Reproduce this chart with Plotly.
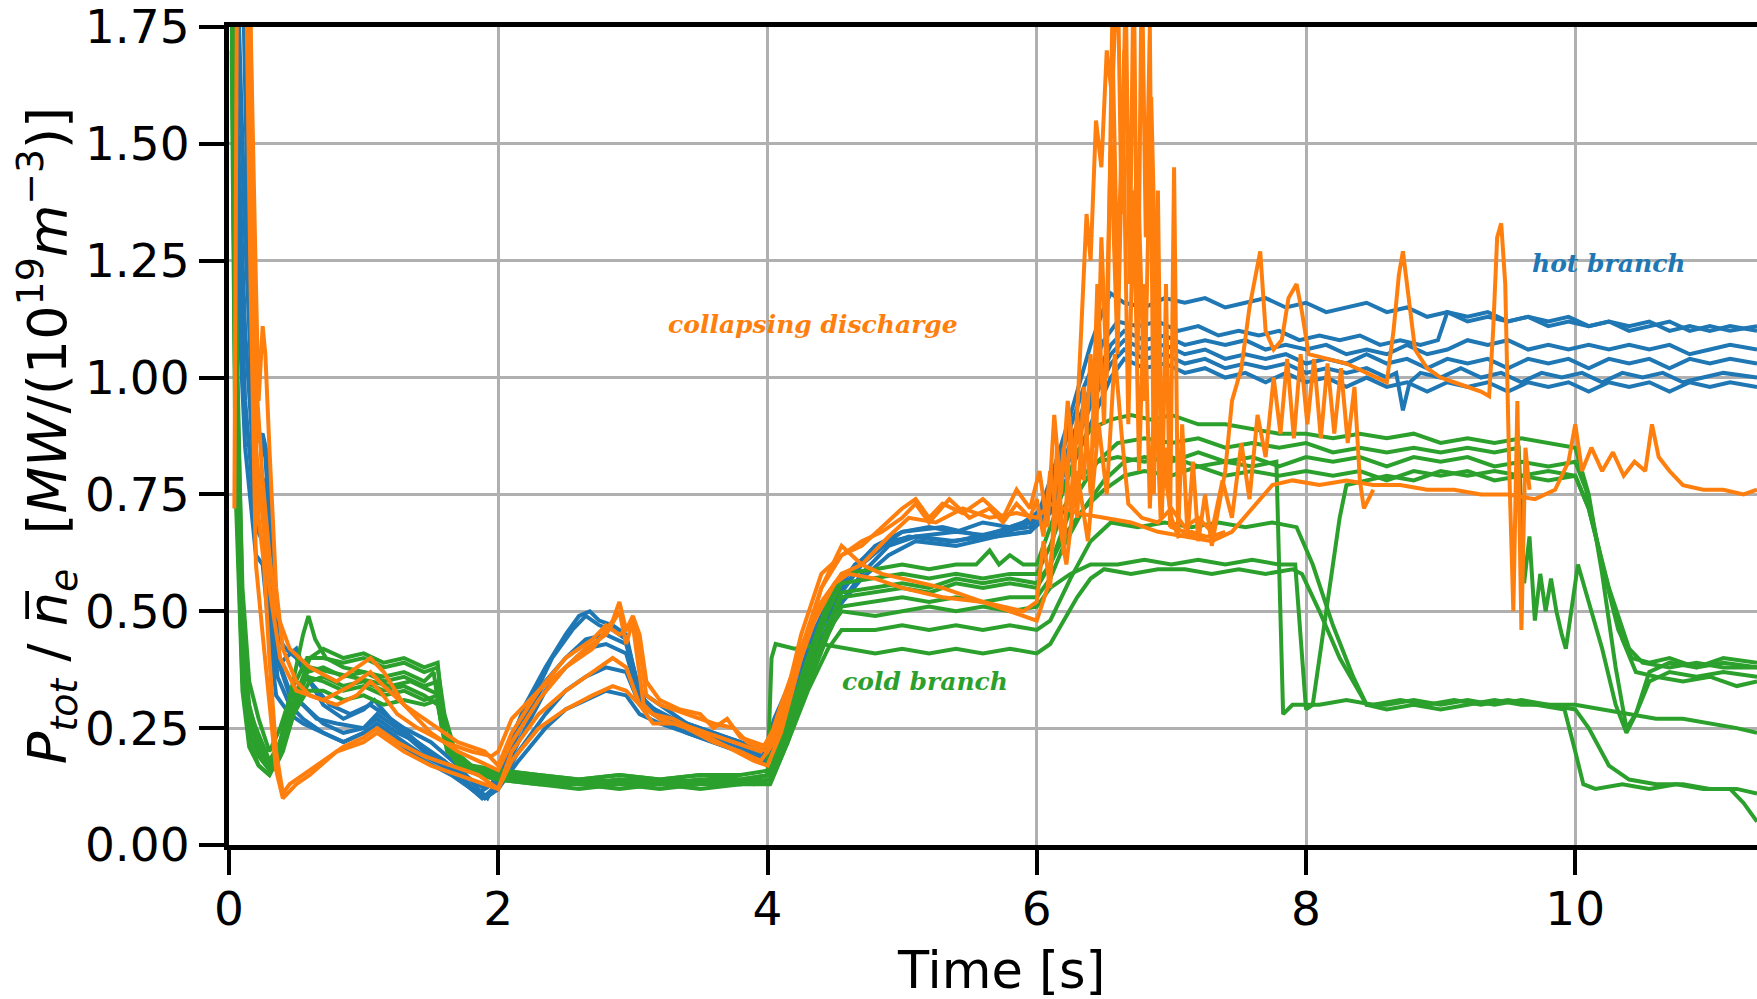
import plotly.graph_objects as go

# ---------------- data (time [s], P_tot / n_e) ----------------
hot1 = [(0.03,2.4),(0.1,1.9),(0.15,1.2),(0.2,0.86),(0.25,0.88),(0.28,0.84),(0.32,0.6),(0.38,0.38),(0.45,0.32),(0.55,0.3),(0.65,0.27),(0.8,0.26),(1.0,0.25),(1.1,0.27),(1.25,0.24),(1.4,0.22),(1.6,0.18),(1.75,0.14),(1.85,0.11),(1.95,0.13),(2.05,0.19),(2.2,0.3),(2.35,0.38),(2.5,0.45),(2.6,0.49),(2.68,0.5),(2.75,0.48),(2.85,0.47),(2.95,0.45),(3.02,0.36),(3.1,0.3),(3.3,0.27),(3.5,0.25),(3.7,0.23),(3.9,0.21),(4.0,0.2),(4.1,0.28),(4.3,0.42),(4.5,0.53),(4.7,0.6),(4.9,0.65),(5.0,0.67),(5.2,0.68),(5.4,0.67),(5.6,0.69),(5.8,0.68),(6.0,0.7),(6.1,0.78),(6.25,0.92),(6.4,1.07),(6.5,1.15),(6.55,1.18),(6.65,1.16),(6.8,1.15),(6.95,1.17),(7.1,1.16),(7.25,1.17),(7.4,1.15),(7.55,1.16),(7.7,1.17),(7.85,1.15),(8.0,1.16),(8.15,1.14),(8.3,1.15),(8.45,1.16),(8.6,1.14),(8.75,1.15),(8.9,1.13),(9.05,1.14),(9.2,1.12),(9.35,1.13),(9.5,1.12),(9.65,1.13),(9.8,1.11),(9.95,1.12),(10.1,1.11),(10.25,1.12),(10.4,1.1),(10.55,1.11),(10.7,1.12),(10.85,1.1),(11.0,1.11),(11.15,1.1),(11.35,1.11)]
hot2 = [(0.03,2.2),(0.1,1.5),(0.18,0.9),(0.24,0.86),(0.27,0.83),(0.3,0.7),(0.35,0.45),(0.42,0.42),(0.5,0.4),(0.6,0.35),(0.75,0.3),(0.9,0.28),(1.05,0.3),(1.15,0.28),(1.3,0.25),(1.5,0.22),(1.7,0.17),(1.85,0.12),(1.92,0.1),(2.05,0.17),(2.2,0.28),(2.4,0.4),(2.55,0.46),(2.65,0.49),(2.75,0.47),(2.85,0.46),(2.95,0.44),(3.05,0.33),(3.2,0.3),(3.4,0.26),(3.6,0.24),(3.8,0.22),(3.95,0.2),(4.05,0.22),(4.2,0.33),(4.4,0.48),(4.6,0.58),(4.8,0.64),(5.0,0.67),(5.3,0.68),(5.6,0.66),(5.9,0.69),(6.05,0.72),(6.2,0.85),(6.35,0.98),(6.5,1.08),(6.6,1.12),(6.75,1.11),(6.9,1.12),(7.05,1.1),(7.2,1.11),(7.35,1.09),(7.5,1.1),(7.65,1.09),(7.8,1.1),(7.95,1.08),(8.1,1.09),(8.25,1.08),(8.4,1.09),(8.55,1.07),(8.7,1.08),(8.85,1.07),(8.98,1.08),(9.05,1.14),(9.2,1.13),(9.35,1.14),(9.5,1.12),(9.65,1.13),(9.8,1.12),(9.95,1.13),(10.1,1.11),(10.25,1.12),(10.4,1.11),(10.55,1.12),(10.7,1.1),(10.85,1.11),(11.0,1.1),(11.15,1.11),(11.35,1.1)]
hot3 = [(0.03,2.0),(0.12,1.3),(0.2,0.8),(0.26,0.78),(0.3,0.62),(0.36,0.4),(0.45,0.33),(0.55,0.3),(0.7,0.26),(0.85,0.24),(1.0,0.25),(1.1,0.28),(1.25,0.25),(1.45,0.2),(1.65,0.17),(1.8,0.14),(1.9,0.12),(2.0,0.14),(2.15,0.24),(2.35,0.35),(2.5,0.4),(2.65,0.44),(2.8,0.45),(2.95,0.43),(3.05,0.32),(3.2,0.28),(3.4,0.25),(3.6,0.23),(3.8,0.21),(3.98,0.19),(4.1,0.25),(4.3,0.4),(4.5,0.52),(4.7,0.6),(4.9,0.65),(5.1,0.66),(5.4,0.65),(5.7,0.67),(5.95,0.68),(6.1,0.74),(6.25,0.86),(6.4,0.98),(6.55,1.07),(6.65,1.1),(6.8,1.08),(6.95,1.09),(7.1,1.07),(7.25,1.08),(7.4,1.07),(7.55,1.08),(7.7,1.06),(7.85,1.07),(8.0,1.06),(8.15,1.07),(8.3,1.05),(8.45,1.06),(8.6,1.05),(8.75,1.07),(8.9,1.05),(9.05,1.06),(9.2,1.08),(9.35,1.07),(9.5,1.08),(9.65,1.06),(9.8,1.07),(9.95,1.06),(10.1,1.07),(10.25,1.06),(10.4,1.07),(10.55,1.06),(10.7,1.07),(10.85,1.05),(11.0,1.06),(11.15,1.07),(11.35,1.06)]
hot4 = [(0.03,1.8),(0.12,1.1),(0.2,0.74),(0.25,0.72),(0.3,0.55),(0.36,0.36),(0.45,0.3),(0.55,0.27),(0.7,0.24),(0.85,0.22),(1.0,0.24),(1.1,0.26),(1.25,0.23),(1.45,0.19),(1.65,0.16),(1.8,0.12),(1.9,0.1),(2.0,0.12),(2.15,0.2),(2.35,0.28),(2.5,0.33),(2.65,0.36),(2.8,0.38),(2.95,0.37),(3.05,0.3),(3.2,0.27),(3.4,0.24),(3.6,0.22),(3.8,0.2),(3.98,0.18),(4.1,0.23),(4.3,0.37),(4.5,0.5),(4.7,0.58),(4.9,0.64),(5.1,0.66),(5.4,0.67),(5.7,0.66),(5.95,0.69),(6.1,0.74),(6.25,0.85),(6.4,0.96),(6.55,1.05),(6.65,1.08),(6.8,1.06),(6.95,1.07),(7.1,1.05),(7.25,1.06),(7.4,1.04),(7.55,1.05),(7.7,1.04),(7.85,1.05),(8.0,1.03),(8.15,1.04),(8.3,1.03),(8.45,1.05),(8.6,1.03),(8.75,1.04),(8.9,1.02),(9.05,1.04),(9.2,1.03),(9.35,1.04),(9.5,1.02),(9.65,1.04),(9.8,1.03),(9.95,1.04),(10.1,1.02),(10.25,1.04),(10.4,1.03),(10.55,1.04),(10.7,1.02),(10.85,1.04),(11.0,1.03),(11.15,1.04),(11.35,1.03)]
hot5 = [(0.03,1.6),(0.12,0.95),(0.2,0.68),(0.25,0.65),(0.3,0.5),(0.35,0.38),(0.42,0.4),(0.5,0.42),(0.58,0.36),(0.7,0.3),(0.85,0.27),(1.0,0.29),(1.08,0.31),(1.2,0.27),(1.4,0.22),(1.6,0.17),(1.75,0.13),(1.88,0.1),(2.0,0.13),(2.15,0.22),(2.35,0.33),(2.5,0.38),(2.65,0.42),(2.8,0.43),(2.95,0.41),(3.05,0.31),(3.2,0.28),(3.4,0.26),(3.6,0.23),(3.8,0.21),(3.97,0.19),(4.08,0.24),(4.3,0.38),(4.5,0.5),(4.7,0.57),(4.9,0.62),(5.1,0.65),(5.4,0.64),(5.7,0.66),(5.95,0.67),(6.1,0.72),(6.25,0.83),(6.4,0.94),(6.55,1.03),(6.65,1.06),(6.8,1.04),(6.95,1.05),(7.1,1.03),(7.25,1.04),(7.4,1.02),(7.55,1.03),(7.7,1.02),(7.85,1.03),(8.0,1.01),(8.15,1.02),(8.3,1.01),(8.45,1.02),(8.6,1.0),(8.67,1.01),(8.72,0.93),(8.77,0.99),(8.85,1.01),(9.0,1.0),(9.15,1.02),(9.3,1.0),(9.45,1.01),(9.6,0.99),(9.75,1.01),(9.9,1.0),(10.05,1.01),(10.2,0.99),(10.35,1.01),(10.5,1.0),(10.65,1.01),(10.8,0.99),(10.95,1.0),(11.1,1.01),(11.35,1.0)]
hot6 = [(0.03,1.4),(0.12,0.85),(0.2,0.62),(0.25,0.6),(0.3,0.45),(0.35,0.32),(0.45,0.28),(0.55,0.26),(0.7,0.24),(0.85,0.22),(1.0,0.24),(1.1,0.25),(1.25,0.22),(1.45,0.18),(1.65,0.15),(1.8,0.12),(1.9,0.1),(2.0,0.12),(2.15,0.18),(2.35,0.25),(2.5,0.29),(2.65,0.31),(2.8,0.33),(2.95,0.32),(3.05,0.28),(3.2,0.26),(3.4,0.24),(3.6,0.22),(3.8,0.2),(3.97,0.19),(4.05,0.27),(4.25,0.4),(4.45,0.52),(4.65,0.6),(4.85,0.64),(5.05,0.66),(5.35,0.65),(5.65,0.66),(5.95,0.67),(6.1,0.71),(6.25,0.8),(6.4,0.9),(6.55,1.0),(6.65,1.04),(6.8,1.02),(6.95,1.03),(7.1,1.01),(7.25,1.02),(7.4,1.0),(7.55,1.01),(7.7,0.99),(7.85,1.01),(8.0,0.99),(8.15,1.0),(8.3,0.98),(8.45,1.0),(8.6,0.98),(8.75,0.99),(8.9,0.97),(9.05,0.99),(9.2,0.98),(9.35,0.99),(9.5,0.97),(9.65,0.99),(9.8,0.98),(9.95,0.99),(10.1,0.97),(10.25,0.99),(10.4,0.98),(10.55,0.99),(10.7,0.97),(10.85,0.99),(11.0,0.98),(11.15,0.99),(11.35,0.98)]

cold1 = [(0.02,2.3),(0.05,1.2),(0.1,0.5),(0.14,0.3),(0.2,0.25),(0.27,0.2),(0.33,0.16),(0.4,0.2),(0.5,0.3),(0.6,0.35),(0.7,0.36),(0.85,0.34),(1.0,0.35),(1.15,0.33),(1.3,0.34),(1.45,0.32),(1.55,0.3),(1.62,0.2),(1.75,0.17),(1.9,0.15),(2.1,0.14),(2.4,0.13),(2.7,0.14),(3.0,0.13),(3.3,0.14),(3.6,0.13),(3.9,0.14),(4.0,0.15),(4.03,0.4),(4.06,0.43),(4.2,0.42),(4.4,0.43),(4.6,0.42),(4.8,0.41),(5.0,0.42),(5.2,0.41),(5.4,0.42),(5.6,0.41),(5.8,0.42),(6.0,0.41),(6.1,0.43),(6.2,0.48),(6.3,0.53),(6.4,0.57),(6.5,0.59),(6.7,0.58),(6.9,0.59),(7.1,0.59),(7.3,0.58),(7.5,0.59),(7.7,0.58),(7.9,0.59),(7.97,0.58),(8.1,0.5),(8.25,0.4),(8.45,0.3),(8.6,0.29),(8.8,0.3),(9.0,0.29),(9.2,0.3),(9.4,0.31),(9.6,0.3),(9.8,0.3),(10.0,0.29),(10.1,0.25),(10.25,0.17),(10.4,0.14),(10.6,0.13),(10.8,0.13),(11.0,0.12),(11.2,0.12),(11.35,0.11)]
cold2 = [(0.02,2.1),(0.05,1.0),(0.1,0.45),(0.15,0.3),(0.22,0.22),(0.3,0.18),(0.38,0.22),(0.48,0.35),(0.55,0.45),(0.59,0.49),(0.64,0.44),(0.72,0.4),(0.85,0.38),(1.0,0.37),(1.15,0.36),(1.3,0.37),(1.45,0.35),(1.52,0.37),(1.58,0.25),(1.7,0.19),(1.85,0.16),(2.0,0.15),(2.3,0.14),(2.6,0.13),(2.9,0.14),(3.2,0.13),(3.5,0.14),(3.8,0.14),(4.02,0.15),(4.15,0.25),(4.3,0.37),(4.45,0.46),(4.55,0.5),(4.8,0.49),(5.0,0.5),(5.2,0.51),(5.4,0.5),(5.6,0.51),(5.8,0.5),(6.0,0.51),(6.1,0.55),(6.25,0.58),(6.4,0.6),(6.6,0.6),(6.8,0.61),(7.0,0.6),(7.2,0.61),(7.4,0.6),(7.6,0.61),(7.8,0.6),(7.92,0.6),(7.96,0.45),(8.0,0.29),(8.05,0.3),(8.15,0.5),(8.25,0.7),(8.3,0.77),(8.45,0.78),(8.6,0.79),(8.8,0.78),(9.0,0.8),(9.2,0.79),(9.4,0.8),(9.6,0.79),(9.8,0.8),(10.0,0.79),(10.1,0.72),(10.25,0.55),(10.4,0.42),(10.5,0.39),(10.7,0.38),(10.9,0.39),(11.1,0.38),(11.35,0.38)]
cold3 = [(0.02,2.0),(0.05,0.9),(0.1,0.4),(0.16,0.25),(0.25,0.2),(0.32,0.17),(0.4,0.24),(0.5,0.33),(0.6,0.38),(0.75,0.37),(0.9,0.36),(1.05,0.35),(1.2,0.34),(1.35,0.35),(1.5,0.33),(1.57,0.32),(1.62,0.21),(1.75,0.16),(1.9,0.15),(2.1,0.15),(2.4,0.14),(2.7,0.13),(3.0,0.14),(3.3,0.13),(3.6,0.14),(3.9,0.13),(4.03,0.14),(4.15,0.22),(4.3,0.33),(4.45,0.42),(4.55,0.46),(4.8,0.46),(5.0,0.47),(5.2,0.46),(5.4,0.47),(5.6,0.46),(5.8,0.47),(6.0,0.46),(6.1,0.48),(6.25,0.57),(6.4,0.65),(6.55,0.69),(6.75,0.68),(6.95,0.69),(7.15,0.68),(7.35,0.69),(7.55,0.68),(7.75,0.69),(7.93,0.68),(8.05,0.6),(8.2,0.47),(8.35,0.36),(8.45,0.3),(8.6,0.3),(8.8,0.31),(9.0,0.3),(9.2,0.31),(9.4,0.3),(9.6,0.31),(9.8,0.3),(10.0,0.3),(10.2,0.29),(10.4,0.28),(10.6,0.27),(10.8,0.27),(11.0,0.26),(11.2,0.25),(11.35,0.24)]
cold4 = [(0.02,1.9),(0.05,0.8),(0.1,0.35),(0.15,0.22),(0.22,0.17),(0.3,0.15),(0.38,0.2),(0.5,0.32),(0.6,0.4),(0.7,0.42),(0.85,0.4),(1.0,0.41),(1.15,0.39),(1.3,0.4),(1.45,0.38),(1.55,0.39),(1.6,0.24),(1.7,0.18),(1.85,0.16),(2.0,0.16),(2.3,0.15),(2.6,0.14),(2.9,0.15),(3.2,0.14),(3.5,0.15),(3.8,0.14),(4.02,0.15),(4.15,0.25),(4.3,0.38),(4.45,0.5),(4.55,0.56),(4.8,0.57),(5.0,0.58),(5.2,0.57),(5.4,0.58),(5.6,0.57),(5.8,0.58),(6.0,0.58),(6.1,0.64),(6.2,0.72),(6.3,0.78),(6.45,0.82),(6.6,0.83),(6.8,0.82),(7.0,0.83),(7.2,0.81),(7.4,0.82),(7.6,0.81),(7.78,0.82),(7.8,0.6),(7.83,0.28),(7.9,0.3),(8.1,0.3),(8.3,0.31),(8.5,0.3),(8.7,0.31),(8.9,0.3),(9.1,0.31),(9.3,0.3),(9.5,0.31),(9.7,0.3),(9.92,0.29),(10.0,0.2),(10.06,0.13),(10.15,0.12),(10.35,0.13),(10.55,0.12),(10.75,0.13),(10.95,0.12),(11.15,0.12),(11.25,0.09),(11.35,0.05)]
cold5 = [(0.02,2.2),(0.05,1.1),(0.1,0.55),(0.15,0.35),(0.22,0.27),(0.3,0.2),(0.38,0.25),(0.48,0.34),(0.58,0.4),(0.7,0.4),(0.85,0.39),(1.0,0.4),(1.15,0.38),(1.3,0.39),(1.45,0.37),(1.55,0.38),(1.6,0.28),(1.68,0.2),(1.8,0.17),(2.0,0.16),(2.3,0.15),(2.6,0.14),(2.9,0.15),(3.2,0.14),(3.5,0.15),(3.8,0.15),(4.02,0.16),(4.15,0.27),(4.3,0.4),(4.45,0.52),(4.55,0.58),(4.8,0.59),(5.0,0.6),(5.2,0.59),(5.4,0.6),(5.55,0.6),(5.65,0.63),(5.72,0.6),(5.8,0.62),(5.9,0.6),(6.0,0.6),(6.1,0.68),(6.2,0.76),(6.3,0.84),(6.4,0.89),(6.55,0.91),(6.7,0.92),(6.85,0.91),(7.0,0.92),(7.2,0.9),(7.4,0.9),(7.6,0.89),(7.8,0.88),(8.0,0.88),(8.2,0.87),(8.4,0.88),(8.6,0.87),(8.8,0.88),(9.0,0.86),(9.2,0.87),(9.4,0.86),(9.6,0.87),(9.8,0.86),(10.0,0.85),(10.1,0.75),(10.2,0.58),(10.3,0.38),(10.38,0.25),(10.45,0.28),(10.55,0.37),(10.7,0.39),(10.9,0.38),(11.1,0.4),(11.35,0.39)]
cold6 = [(0.02,2.0),(0.05,0.95),(0.1,0.45),(0.15,0.28),(0.22,0.2),(0.3,0.17),(0.38,0.22),(0.48,0.3),(0.58,0.36),(0.7,0.35),(0.85,0.33),(1.0,0.34),(1.15,0.32),(1.3,0.33),(1.45,0.31),(1.55,0.32),(1.62,0.22),(1.72,0.17),(1.85,0.15),(2.0,0.14),(2.3,0.13),(2.6,0.12),(2.9,0.13),(3.2,0.12),(3.5,0.13),(3.8,0.13),(4.02,0.14),(4.15,0.24),(4.3,0.36),(4.45,0.47),(4.55,0.53),(4.8,0.54),(5.0,0.55),(5.2,0.54),(5.4,0.56),(5.6,0.55),(5.8,0.56),(6.0,0.55),(6.1,0.6),(6.2,0.68),(6.3,0.75),(6.45,0.82),(6.6,0.86),(6.8,0.87),(7.0,0.86),(7.2,0.87),(7.4,0.85),(7.6,0.86),(7.8,0.85),(8.0,0.86),(8.2,0.84),(8.4,0.85),(8.6,0.84),(8.8,0.85),(9.0,0.84),(9.2,0.85),(9.4,0.84),(9.58,0.85),(9.62,0.56),(9.66,0.66),(9.7,0.48),(9.74,0.58),(9.78,0.5),(9.82,0.57),(9.86,0.5),(9.9,0.45),(9.93,0.42),(9.97,0.5),(10.02,0.6),(10.1,0.52),(10.2,0.42),(10.3,0.3),(10.38,0.24),(10.45,0.28),(10.55,0.35),(10.7,0.37),(10.9,0.36),(11.1,0.37),(11.35,0.36)]
cold7 = [(0.02,1.8),(0.05,0.85),(0.1,0.38),(0.15,0.24),(0.22,0.19),(0.3,0.16),(0.38,0.21),(0.48,0.31),(0.58,0.37),(0.7,0.38),(0.85,0.36),(1.0,0.37),(1.15,0.35),(1.3,0.36),(1.45,0.34),(1.55,0.35),(1.6,0.23),(1.7,0.18),(1.85,0.16),(2.0,0.15),(2.3,0.14),(2.6,0.13),(2.9,0.14),(3.2,0.13),(3.5,0.14),(3.8,0.13),(4.02,0.14),(4.15,0.23),(4.3,0.34),(4.45,0.45),(4.55,0.51),(4.8,0.52),(5.0,0.53),(5.2,0.52),(5.4,0.53),(5.6,0.52),(5.8,0.53),(6.0,0.53),(6.1,0.57),(6.2,0.64),(6.35,0.72),(6.5,0.78),(6.65,0.82),(6.8,0.83),(7.0,0.82),(7.2,0.84),(7.4,0.82),(7.6,0.83),(7.8,0.81),(8.0,0.83),(8.2,0.82),(8.4,0.83),(8.6,0.81),(8.8,0.83),(9.0,0.82),(9.2,0.83),(9.4,0.81),(9.6,0.82),(9.8,0.81),(10.0,0.82),(10.08,0.76),(10.2,0.6),(10.32,0.46),(10.42,0.4),(10.55,0.39),(10.7,0.4),(10.9,0.38),(11.1,0.39),(11.35,0.38)]
cold8 = [(0.02,1.7),(0.05,0.75),(0.1,0.33),(0.15,0.21),(0.22,0.17),(0.3,0.15),(0.38,0.19),(0.48,0.28),(0.58,0.33),(0.7,0.33),(0.85,0.31),(1.0,0.32),(1.15,0.3),(1.3,0.31),(1.45,0.3),(1.55,0.31),(1.6,0.22),(1.7,0.17),(1.85,0.15),(2.0,0.14),(2.3,0.13),(2.6,0.13),(2.9,0.12),(3.2,0.13),(3.5,0.12),(3.8,0.13),(4.02,0.13),(4.15,0.22),(4.3,0.35),(4.45,0.47),(4.55,0.54),(4.8,0.55),(5.0,0.56),(5.2,0.55),(5.4,0.57),(5.6,0.56),(5.8,0.57),(6.0,0.56),(6.1,0.6),(6.2,0.66),(6.35,0.72),(6.5,0.76),(6.65,0.79),(6.8,0.8),(7.0,0.79),(7.2,0.81),(7.4,0.79),(7.6,0.8),(7.8,0.79),(8.0,0.8),(8.2,0.79),(8.4,0.8),(8.6,0.78),(8.8,0.8),(9.0,0.79),(9.2,0.8),(9.4,0.78),(9.6,0.79),(9.8,0.78),(10.0,0.79),(10.1,0.72),(10.22,0.58),(10.35,0.44),(10.45,0.37),(10.6,0.36),(10.8,0.35),(11.0,0.36),(11.2,0.34),(11.35,0.35)]

coll1 = [(0.04,0.72),(0.06,1.9),(0.1,2.2),(0.15,1.9),(0.2,1.2),(0.22,0.95),(0.25,1.11),(0.27,1.05),(0.3,0.85),(0.35,0.55),(0.4,0.42),(0.5,0.35),(0.6,0.32),(0.8,0.3),(0.95,0.32),(1.05,0.35),(1.12,0.33),(1.25,0.28),(1.4,0.25),(1.6,0.22),(1.8,0.2),(1.95,0.19),(2.0,0.2),(2.1,0.27),(2.3,0.33),(2.5,0.38),(2.7,0.42),(2.85,0.48),(2.9,0.52),(2.95,0.46),(3.0,0.49),(3.05,0.45),(3.1,0.35),(3.2,0.31),(3.35,0.29),(3.5,0.28),(3.6,0.25),(3.7,0.27),(3.8,0.23),(3.9,0.22),(4.0,0.21),(4.1,0.3),(4.25,0.42),(4.4,0.55),(4.55,0.62),(4.7,0.64),(4.85,0.68),(5.0,0.72),(5.1,0.74),(5.2,0.7),(5.3,0.73),(5.45,0.71),(5.6,0.74),(5.75,0.7),(5.85,0.76),(5.95,0.72),(6.02,0.8),(6.08,0.68),(6.13,0.92),(6.18,0.75),(6.23,0.95),(6.28,0.8),(6.33,1.1),(6.37,1.35),(6.4,1.25),(6.44,1.55),(6.48,1.45),(6.52,1.7),(6.56,1.6),(6.6,1.9),(6.63,1.35),(6.66,1.85),(6.69,1.2),(6.72,1.9),(6.75,1.05),(6.78,1.9),(6.81,1.3),(6.84,1.75),(6.87,0.75),(6.9,1.4),(6.93,0.7),(6.96,1.2),(6.99,0.68),(7.02,1.45),(7.05,0.66),(7.08,0.9),(7.12,0.66),(7.16,0.82),(7.2,0.65),(7.25,0.75),(7.3,0.64),(7.35,0.72),(7.4,0.8),(7.45,0.95),(7.52,1.02),(7.58,1.15),(7.63,1.22),(7.66,1.27),(7.7,1.1),(7.76,1.06),(7.82,1.08),(7.87,1.17),(7.93,1.2),(7.97,1.14),(8.02,1.05),(8.15,1.04),(8.3,1.03),(8.45,1.01),(8.6,0.99),(8.65,1.1),(8.69,1.22),(8.72,1.27),(8.76,1.17),(8.81,1.06),(8.9,1.02),(9.0,1.0),(9.1,0.99),(9.2,0.98),(9.3,0.97),(9.36,0.96),(9.39,1.1),(9.42,1.3),(9.45,1.33),(9.48,1.2),(9.51,0.8),(9.54,0.5),(9.57,0.95),(9.6,0.46),(9.63,0.85),(9.66,0.76)]
coll2 = [(0.03,2.3),(0.1,2.5),(0.15,1.8),(0.18,1.0),(0.22,0.7),(0.26,0.6),(0.3,0.4),(0.35,0.2),(0.4,0.11),(0.45,0.13),(0.55,0.15),(0.7,0.18),(0.85,0.21),(1.0,0.23),(1.1,0.25),(1.25,0.22),(1.45,0.19),(1.65,0.17),(1.85,0.15),(2.0,0.12),(2.1,0.2),(2.3,0.28),(2.5,0.33),(2.7,0.37),(2.85,0.4),(2.95,0.38),(3.05,0.3),(3.15,0.26),(3.35,0.26),(3.55,0.24),(3.75,0.22),(3.95,0.2),(4.05,0.25),(4.2,0.38),(4.4,0.52),(4.55,0.58),(4.7,0.6),(4.9,0.66),(5.05,0.7),(5.25,0.69),(5.45,0.72),(5.65,0.7),(5.85,0.71),(6.0,0.7),(6.1,0.73),(6.3,0.71),(6.5,0.7),(6.7,0.69),(6.9,0.67),(7.1,0.66),(7.3,0.65),(7.45,0.67),(7.6,0.72),(7.75,0.77),(7.9,0.78),(8.1,0.77),(8.3,0.78),(8.5,0.77),(8.7,0.77),(8.9,0.76),(9.1,0.76),(9.3,0.75),(9.5,0.75),(9.7,0.74),(9.85,0.76),(9.95,0.82),(10.0,0.9),(10.05,0.8),(10.12,0.85),(10.2,0.8),(10.28,0.84),(10.36,0.79),(10.44,0.82),(10.52,0.8),(10.57,0.9),(10.62,0.83),(10.7,0.8),(10.8,0.77),(10.95,0.76),(11.1,0.76),(11.25,0.75),(11.35,0.76)]
coll3 = [(0.03,2.0),(0.12,2.2),(0.17,1.5),(0.2,0.85),(0.25,0.7),(0.3,0.55),(0.38,0.4),(0.5,0.33),(0.7,0.31),(0.9,0.34),(1.05,0.37),(1.15,0.34),(1.3,0.3),(1.5,0.26),(1.7,0.22),(1.9,0.2),(2.0,0.17),(2.1,0.24),(2.3,0.33),(2.5,0.4),(2.7,0.44),(2.8,0.47),(2.9,0.45),(3.0,0.47),(3.08,0.3),(3.15,0.28),(3.3,0.27),(3.5,0.24),(3.7,0.21),(3.9,0.18),(4.0,0.17),(4.1,0.24),(4.25,0.4),(4.4,0.55),(4.55,0.64),(4.7,0.6),(4.85,0.58),(5.0,0.57),(5.3,0.55),(5.6,0.52),(5.9,0.49),(6.0,0.48),(6.08,0.55),(6.15,0.72),(6.22,0.6),(6.3,0.8),(6.38,0.65),(6.46,0.9),(6.52,0.75),(6.58,1.05),(6.63,0.88),(6.68,0.73),(6.78,0.7),(6.9,0.69),(7.0,0.72),(7.1,0.68),(7.2,0.7),(7.3,0.67),(7.38,0.78),(7.45,0.7),(7.52,0.86),(7.58,0.74),(7.64,0.92),(7.7,0.83),(7.76,1.0),(7.81,0.88),(7.86,1.04),(7.91,0.87),(7.96,1.05),(8.01,0.9),(8.06,1.04),(8.11,0.87),(8.16,1.03),(8.21,0.88),(8.26,1.02),(8.31,0.86),(8.36,0.98),(8.4,0.78),(8.43,0.72),(8.5,0.76)]
coll4 = [(0.03,2.5),(0.12,2.0),(0.16,1.2),(0.2,0.6),(0.25,0.45),(0.3,0.3),(0.35,0.16),(0.4,0.1),(0.5,0.13),(0.6,0.15),(0.8,0.2),(1.0,0.22),(1.1,0.24),(1.3,0.2),(1.5,0.17),(1.7,0.15),(1.9,0.13),(2.0,0.12),(2.1,0.18),(2.3,0.25),(2.5,0.29),(2.7,0.32),(2.85,0.34),(2.95,0.33),(3.05,0.3),(3.2,0.27),(3.4,0.25),(3.6,0.22),(3.8,0.2),(3.95,0.18),(4.05,0.22),(4.2,0.36),(4.35,0.48),(4.5,0.56),(4.6,0.58),(4.8,0.57),(5.0,0.55),(5.3,0.53),(5.6,0.52),(5.9,0.5),(6.0,0.52),(6.05,0.65),(6.1,0.55),(6.15,0.85),(6.2,0.62),(6.25,0.9),(6.3,0.7),(6.35,0.98),(6.4,0.75),(6.45,1.2),(6.5,0.9),(6.55,1.5),(6.6,1.05),(6.65,1.7),(6.7,1.3),(6.75,1.45),(6.8,0.95),(6.85,1.6),(6.9,1.0),(6.95,0.8),(7.0,0.7),(7.05,0.66),(7.15,0.67),(7.25,0.66)]
coll5 = [(0.03,2.6),(0.14,2.1),(0.2,1.0),(0.25,0.78),(0.3,0.62),(0.35,0.5),(0.45,0.42),(0.6,0.38),(0.8,0.35),(0.95,0.38),(1.05,0.4),(1.15,0.37),(1.3,0.3),(1.5,0.24),(1.7,0.2),(1.85,0.18),(2.0,0.16),(2.1,0.22),(2.3,0.31),(2.5,0.38),(2.65,0.42),(2.8,0.45),(2.9,0.5),(2.95,0.43),(3.0,0.48),(3.05,0.42),(3.1,0.32),(3.2,0.3),(3.4,0.28),(3.6,0.26),(3.75,0.25),(3.85,0.22),(4.0,0.2),(4.1,0.27),(4.25,0.45),(4.4,0.58),(4.55,0.62),(4.7,0.65),(4.85,0.67),(5.0,0.7),(5.1,0.73),(5.2,0.69),(5.35,0.74),(5.5,0.7),(5.65,0.72),(5.75,0.69),(5.85,0.73),(5.95,0.7),(6.0,0.74),(6.05,0.66),(6.1,0.8),(6.15,0.7),(6.2,0.85),(6.25,0.72),(6.3,0.92),(6.35,0.78),(6.4,1.05),(6.44,0.85),(6.48,1.3),(6.52,1.0),(6.56,1.75),(6.6,1.2),(6.64,1.6),(6.68,0.9),(6.72,1.4),(6.76,0.8),(6.8,1.2),(6.84,0.72),(6.88,1.0),(6.92,0.7),(6.96,0.85),(7.0,0.68),(7.1,0.67),(7.2,0.66),(7.3,0.66),(7.4,0.67)]

hot_branch = [hot1, hot2, hot3, hot4, hot5, hot6]
cold_branch = [cold1, cold2, cold3, cold4, cold5, cold6, cold7, cold8]
collapsing = [coll1, coll2, coll3, coll4, coll5]

x_ticks = [0, 2, 4, 6, 8, 10]
y_ticks = [0.0, 0.25, 0.5, 0.75, 1.0, 1.25, 1.5, 1.75]
y_ticktext = ["0.00", "0.25", "0.50", "0.75", "1.00", "1.25", "1.50", "1.75"]

C_BLUE, C_ORANGE, C_GREEN = "#1f77b4", "#ff7f0e", "#2ca02c"

fig = go.Figure()
for group, color in [(hot_branch, C_BLUE), (cold_branch, C_GREEN), (collapsing, C_ORANGE)]:
    for tr in group:
        fig.add_trace(go.Scatter(
            x=[p[0] for p in tr], y=[p[1] for p in tr], mode="lines",
            line=dict(color=color, width=4), hoverinfo="skip", showlegend=False))

FONT = "DejaVu Sans"
axis_common = dict(
    showline=True, linewidth=5, linecolor="black",
    ticks="outside", ticklen=25, tickwidth=4, tickcolor="black",
    showgrid=True, gridcolor="#b0b0b0", gridwidth=3, zeroline=False,
    ticklabeloverflow="allow",
    tickfont=dict(family=FONT, size=47, color="black"),
)
fig.update_xaxes(range=[0, 11.35], tickvals=x_ticks, mirror=True, ticklabelstandoff=-6, **axis_common)
fig.update_yaxes(range=[0, 1.75], tickvals=y_ticks, ticktext=y_ticktext, mirror=False, **axis_common)

ann_font = dict(family="DejaVu Serif", size=25)
fig.add_annotation(x=4.34, y=1.113, text="<b><i>collapsing discharge</i></b>", showarrow=False,
                   font=dict(color=C_ORANGE, **ann_font))
fig.add_annotation(x=10.25, y=1.245, text="<b><i>hot branch</i></b>", showarrow=False,
                   font=dict(color=C_BLUE, **ann_font))
fig.add_annotation(x=5.17, y=0.349, text="<b><i>cold branch</i></b>", showarrow=False,
                   font=dict(color=C_GREEN, **ann_font))

fig.add_annotation(xref="paper", yref="paper", x=0.505, y=-0.153, text="Time [s]", showarrow=False,
                   xanchor="center", yanchor="middle", font=dict(family=FONT, size=51, color="black"))
fig.add_annotation(xref="paper", yref="paper", x=-0.119, y=0.5, textangle=-90,
                   text="<i>P</i><sub><i>tot</i></sub> / <i>n̅</i><sub><i>e</i></sub>  [<i>MW</i>/(10<sup>19</sup><i>m</i><sup>−3</sup>)]",
                   showarrow=False, xanchor="center", yanchor="middle",
                   font=dict(family=FONT, size=54, color="black"))

fig.update_layout(width=1757, height=999, margin=dict(l=229, r=0, t=27, b=154),
                  plot_bgcolor="white", paper_bgcolor="white", showlegend=False)

fig.write_html("out.html", config={"displayModeBar": False},
               post_script="document.body.style.margin='0px';document.body.style.overflow='hidden';")
